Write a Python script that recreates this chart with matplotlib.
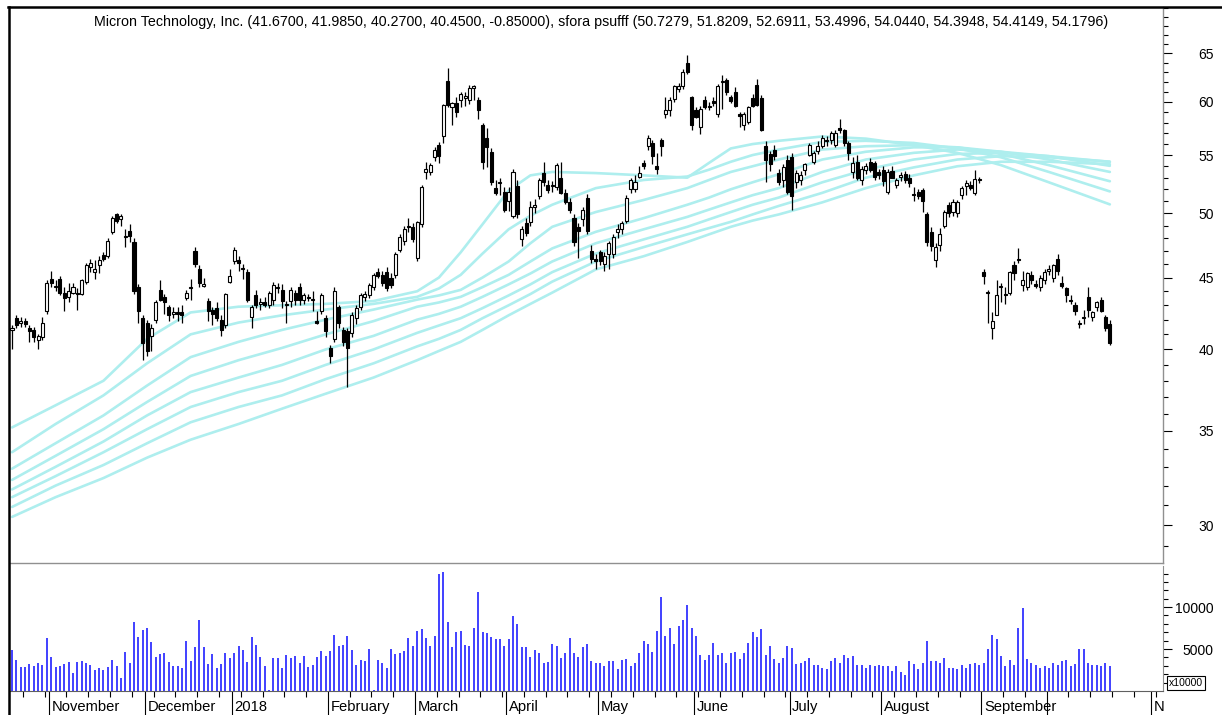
import matplotlib
matplotlib.use("Agg")
import matplotlib.pyplot as plt
import matplotlib.transforms as mtransforms
from matplotlib.lines import Line2D
from matplotlib.ticker import FixedLocator, NullFormatter, FixedFormatter
import numpy as np

plt.rcParams['font.family'] = ['Liberation Sans', 'DejaVu Sans']

title = ("Micron Technology, Inc. (41.6700, 41.9850, 40.2700, 40.4500, -0.85000), "
         "sfora psufff (50.7279, 51.8209, 52.6911, 53.4996, 54.0440, 54.3948, 54.4149, 54.1796)")

opens = [
    41.3, 42.1, 41.8, 41.9, 41.4, 41.3, 40.6, 40.8, 42.6, 44.9,
    44.3, 44.9, 43.9, 43.6, 43.9, 43.9, 43.8, 44.7, 45.8, 45.4,
    45.9, 46.7, 46.6, 48.5, 49.9, 49.5, 48.1, 48.6, 47.7, 44.3,
    42.1, 41.8, 40.9, 42.0, 44.1, 43.6, 42.9, 42.4, 42.5, 42.5,
    43.5, 44.2, 47.0, 45.6, 44.4, 43.3, 42.7, 42.8, 42.0, 41.65,
    44.7, 46.2, 46.3, 45.7, 45.4, 42.2, 43.75, 43.1, 43.2, 43.0,
    43.4, 44.3, 44.1, 43.0, 43.3, 43.9, 44.3, 43.4, 43.6, 43.4,
    41.9, 42.6, 42.1, 40.1, 40.7, 42.9, 41.3, 41.2, 41.1, 42.1,
    42.9, 43.6, 43.7, 44.3, 45.4, 45.2, 45.4, 45.0, 45.2, 47.1,
    47.8, 48.9, 48.9, 46.5, 49.1, 53.5, 53.5, 54.8, 55.9, 56.7,
    62.1, 59.5, 59.9, 60.2, 60.4, 60.2, 61.4, 60.2, 57.8, 56.6,
    55.3, 52.1, 52.5, 51.8, 51.0, 49.8, 52.3, 47.9, 49.2, 49.3,
    50.5, 51.4, 53.4, 52.4, 52.3, 52.2, 53.0, 51.7, 50.9, 49.6,
    48.9, 49.5, 51.3, 47.0, 46.4, 46.9, 46.0, 46.8, 46.8, 48.5,
    48.7, 49.4, 52.0, 52.0, 53.1, 54.3, 55.8, 56.1, 54.0, 56.4,
    58.8, 59.2, 60.3, 61.3, 61.6, 64.0, 60.5, 59.2, 57.6, 60.2,
    59.6, 60.1, 58.8, 62.0, 62.2, 60.5, 61.0, 58.8, 57.8, 58.1,
    60.4, 61.7, 60.4, 55.8, 55.1, 55.5, 53.4, 52.8, 54.6, 54.8,
    52.6, 52.8, 53.7, 55.05, 54.4, 55.4, 55.8, 56.3, 56.4, 55.95,
    57.5, 57.3, 56.1, 53.5, 54.4, 52.8, 53.7, 54.4, 54.3, 53.5,
    53.7, 51.8, 53.6, 52.4, 53.1, 53.3, 53.0, 51.6, 51.8, 51.9,
    49.9, 48.5, 46.3, 47.5, 49.0, 50.7, 50.1, 50.0, 51.5, 52.3,
    52.4, 51.7, 52.9, 45.4, 43.95, 41.4, 42.35, 44.3, 43.8, 43.9,
    45.9, 46.4, 44.45, 44.3, 45.2, 44.5, 44.3, 44.8, 45.5, 45.0,
    46.4, 44.6, 44.2, 43.4, 43.0, 41.8, 42.1, 43.6, 42.2, 42.9,
    43.4, 42.2, 41.67]
highs = [
    41.6, 42.3, 42.2, 42.1, 41.6, 41.5, 41.0, 42.2, 44.8, 45.5,
    44.8, 45.1, 44.3, 44.6, 44.6, 44.2, 44.9, 46.1, 46.4, 46.3,
    46.6, 46.9, 48.0, 49.8, 50.0, 49.9, 48.7, 49.1, 48.0, 44.5,
    42.3, 42.0, 41.7, 43.4, 44.8, 43.8, 43.0, 42.9, 42.9, 43.0,
    44.1, 44.9, 47.3, 45.9, 45.0, 43.5, 42.9, 43.2, 42.3, 43.9,
    45.6, 47.3, 46.6, 46.0, 45.6, 43.0, 44.1, 43.5, 43.6, 44.0,
    44.7, 44.6, 44.5, 43.3, 44.3, 44.1, 44.6, 43.9, 43.8, 44.0,
    42.6, 43.9, 42.3, 40.3, 44.3, 43.0, 41.5, 41.4, 42.5, 43.0,
    43.9, 44.0, 44.6, 45.3, 45.7, 45.5, 45.8, 45.3, 46.9, 48.3,
    49.0, 49.6, 49.2, 49.4, 52.4, 54.4, 54.3, 55.7, 56.2, 59.8,
    63.4, 60.0, 60.5, 61.0, 61.0, 61.7, 61.7, 60.5, 58.0, 57.5,
    55.6, 52.8, 53.0, 52.2, 52.2, 53.8, 52.8, 49.0, 49.6, 51.0,
    51.2, 53.0, 54.4, 52.8, 52.7, 54.3, 54.4, 52.0, 51.3, 49.9,
    49.2, 50.5, 51.6, 47.5, 46.8, 47.1, 46.9, 47.8, 48.3, 49.1,
    49.4, 51.5, 53.0, 53.2, 54.0, 54.6, 56.8, 56.4, 55.2, 56.6,
    60.5, 60.5, 61.7, 61.9, 63.3, 64.8, 60.6, 59.5, 59.6, 60.6,
    60.0, 60.5, 61.8, 62.7, 62.4, 60.7, 61.5, 59.0, 59.0, 59.6,
    60.8, 62.3, 60.7, 56.3, 55.4, 55.9, 53.8, 54.2, 55.0, 55.2,
    53.7, 53.6, 54.3, 56.1, 55.4, 56.3, 56.8, 56.7, 57.2, 57.3,
    58.3, 57.4, 56.3, 54.8, 55.0, 54.0, 54.3, 54.7, 54.5, 53.8,
    54.0, 53.8, 54.0, 53.0, 53.5, 53.6, 53.3, 52.2, 52.0, 52.1,
    50.1, 48.9, 47.6, 48.8, 50.3, 50.9, 51.2, 51.1, 52.3, 52.8,
    52.7, 53.7, 53.1, 45.6, 44.1, 42.5, 44.8, 44.6, 44.3, 45.5,
    46.2, 47.2, 45.5, 45.4, 45.5, 44.8, 45.2, 45.6, 45.9, 46.0,
    46.8, 45.1, 44.3, 43.7, 43.2, 42.0, 42.7, 44.3, 42.6, 43.3,
    43.6, 42.3, 41.985]
lows = [
    40.0, 41.4, 41.5, 41.5, 40.5, 40.5, 40.0, 40.6, 42.4, 44.3,
    44.0, 43.7, 42.6, 43.2, 43.8, 42.7, 43.7, 44.5, 45.4, 44.9,
    45.3, 46.2, 46.5, 48.3, 49.2, 49.0, 47.3, 47.7, 43.8, 41.8,
    39.3, 39.6, 39.9, 41.8, 43.3, 42.4, 41.9, 42.1, 41.9, 41.8,
    43.4, 43.4, 45.8, 44.3, 44.3, 41.9, 41.6, 41.9, 40.9, 41.4,
    44.6, 46.0, 45.5, 44.9, 43.2, 41.4, 42.8, 42.7, 42.9, 42.8,
    43.0, 43.9, 42.8, 41.8, 42.9, 43.0, 43.0, 43.1, 43.3, 42.6,
    41.7, 42.4, 40.8, 39.1, 40.5, 41.4, 40.2, 37.6, 40.8, 41.7,
    42.7, 43.3, 43.5, 44.1, 45.0, 44.4, 44.0, 44.2, 45.0, 46.9,
    47.5, 48.5, 47.7, 46.2, 48.9, 52.9, 53.2, 54.5, 54.3, 56.1,
    59.5, 57.8, 58.5, 59.5, 59.6, 59.8, 60.2, 58.3, 53.8, 53.9,
    52.4, 51.5, 51.5, 50.1, 50.2, 49.6, 49.6, 47.4, 48.2, 49.0,
    50.0, 51.2, 52.3, 51.7, 51.8, 51.9, 51.6, 50.8, 50.0, 47.4,
    46.5, 49.0, 48.3, 46.1, 45.6, 45.9, 45.5, 45.6, 46.5, 48.0,
    48.3, 49.2, 51.7, 51.8, 53.0, 53.8, 55.5, 54.2, 53.3, 54.9,
    58.4, 58.6, 60.0, 61.0, 61.3, 62.8, 57.3, 58.4, 56.9, 59.3,
    59.2, 59.6, 58.5, 59.3, 60.7, 59.9, 59.5, 57.6, 57.3, 57.9,
    59.5, 59.6, 57.2, 52.6, 53.6, 54.6, 52.4, 52.2, 51.6, 50.3,
    52.1, 52.4, 53.2, 54.9, 54.2, 55.1, 55.6, 55.8, 56.0, 55.7,
    57.0, 55.8, 54.6, 53.0, 52.8, 52.4, 53.3, 53.5, 52.8, 52.9,
    52.3, 51.6, 53.0, 52.1, 52.7, 52.5, 52.2, 51.0, 51.2, 50.1,
    47.4, 47.0, 45.8, 47.0, 48.8, 49.7, 49.8, 49.7, 51.2, 51.5,
    51.9, 51.5, 52.5, 44.5, 41.8, 40.7, 42.3, 43.2, 43.1, 43.7,
    44.8, 46.1, 44.0, 44.1, 44.5, 44.2, 44.0, 44.5, 45.2, 44.7,
    45.2, 44.2, 43.2, 43.1, 42.3, 41.4, 41.7, 42.2, 41.9, 42.6,
    42.5, 41.2, 40.27]
closes = [
    41.4, 41.6, 41.9, 41.7, 41.2, 40.8, 40.9, 41.8, 44.6, 44.6,
    44.4, 43.9, 43.5, 44.0, 44.3, 43.8, 44.8, 45.9, 46.1, 45.6,
    46.3, 46.4, 47.8, 49.6, 49.4, 49.8, 48.2, 48.2, 44.0, 42.6,
    40.4, 39.9, 41.4, 43.2, 43.4, 43.2, 42.3, 42.5, 42.4, 42.3,
    43.9, 44.3, 46.0, 44.6, 44.5, 42.6, 42.4, 42.1, 41.3, 43.8,
    45.15, 47.1, 46.1, 45.6, 43.4, 42.9, 43.05, 43.2, 43.0, 43.9,
    44.45, 44.2, 43.3, 43.1, 44.1, 43.4, 43.4, 43.75, 43.5, 43.4,
    41.8, 43.75, 41.2, 39.6, 44.0, 41.8, 40.5, 40.1, 42.3, 42.8,
    43.75, 43.8, 44.45, 45.2, 45.1, 44.6, 44.2, 44.45, 46.8, 48.1,
    48.7, 49.0, 47.9, 49.3, 52.2, 53.75, 54.1, 55.5, 54.9, 59.7,
    59.7, 59.9, 59.0, 60.8, 60.6, 61.4, 61.6, 59.2, 54.4, 55.7,
    52.6, 51.7, 52.6, 50.3, 51.8, 53.5, 49.9, 48.7, 48.4, 50.5,
    50.7, 52.8, 52.6, 51.9, 52.4, 54.15, 51.7, 50.9, 50.3, 47.7,
    48.6, 50.3, 48.6, 46.4, 46.2, 46.2, 46.6, 47.6, 48.1, 48.7,
    49.2, 51.3, 52.8, 52.6, 53.4, 54.0, 56.6, 54.9, 53.8, 55.8,
    59.2, 60.2, 61.6, 61.6, 63.0, 63.0, 57.8, 58.5, 59.3, 59.5,
    59.5, 59.9, 61.6, 62.1, 61.0, 60.1, 59.6, 58.6, 58.8, 59.5,
    59.6, 59.7, 57.3, 54.6, 54.2, 54.9, 52.6, 53.9, 51.8, 51.4,
    53.4, 53.25, 54.2, 55.95, 55.2, 55.85, 56.6, 56.4, 57.0, 57.0,
    57.3, 56.1, 55.2, 54.3, 53.0, 53.8, 54.0, 53.7, 53.1, 53.2,
    52.7, 53.5, 53.0, 52.8, 53.25, 52.8, 52.5, 51.5, 51.4, 51.0,
    47.7, 47.4, 47.3, 48.3, 50.1, 50.0, 50.9, 50.9, 52.1, 52.5,
    52.1, 52.9, 52.8, 45.1, 43.9, 41.9, 43.75, 44.4, 43.7, 45.4,
    45.3, 46.3, 44.8, 45.3, 44.8, 44.4, 45.0, 45.4, 45.6, 45.9,
    45.5, 44.4, 43.75, 43.3, 42.6, 41.7, 42.2, 42.7, 42.5, 43.2,
    42.6, 41.4, 40.45]

volume = [
    4920, 3710, 2820, 2820, 3260, 2980, 3300, 3100, 6330, 4030,
    2820, 2980, 3180, 3430, 2180, 3430, 3630, 3300, 3100, 2500,
    2700, 2500, 2820, 3750, 2980, 1570, 4590, 3300, 8220, 6450,
    7330, 7540, 5800, 4030, 4390, 4550, 3430, 2980, 2980, 2700,
    6000, 3630, 5200, 8500, 5200, 3180, 4390, 2700, 3180, 4550,
    3910, 4550, 5360, 4920, 3430, 6450, 5520, 4030, 2980, 160,
    3910, 3910, 2700, 4270, 3910, 4230, 3300, 4230, 2820, 3140,
    4030, 4720, 4230, 4720, 6730, 5360, 5440, 6610, 4920, 3100,
    3750, 3590, 5040, 160, 3750, 3300, 2700, 5040, 4390, 4510,
    4720, 6330, 5360, 7210, 7420, 6330, 5360, 6610, 13900, 14190,
    8220, 5200, 7050, 7210, 5440, 5360, 7540, 11850, 7050, 6930,
    6450, 6250, 6200, 5360, 6170, 8950, 8020, 5200, 5200, 4030,
    4880, 4550, 3300, 3430, 5640, 5360, 3910, 4550, 6330, 4550,
    4030, 5200, 5640, 3590, 3300, 3300, 2980, 3590,
    3540, 2640, 3700, 3860, 2930, 3370, 4510, 5980, 5570, 4670,
    7200, 11260, 6590, 7480, 5570, 7720, 8500, 10240, 7520, 6590,
    4350, 3700, 4350, 5770, 4350, 4510, 3370, 4510, 4670, 3860,
    4510, 5770, 7030, 6420, 7400, 4350, 5410, 3860, 3370, 3980,
    5330, 5160, 3250, 3370, 3540, 3980, 3050, 3050, 2760, 2640,
    3540, 3980, 3370, 4350, 3980, 4190, 3050, 3050, 2760, 3050,
    2930, 3050, 2930, 2930, 2440, 2930, 2240, 1910, 3540, 3250,
    2640, 3370, 5980, 3540, 3540, 3370, 3980, 2760, 2760, 2640,
    3050, 2760, 3250, 3370, 3050, 3370, 5000, 6710, 6140, 4190,
    2930, 3700, 3050, 7520, 9840, 3860, 3370, 3050, 2760, 2930,
    2760, 3370, 3050, 3540, 3700, 2930, 3250, 5000, 5000, 3370,
    3050, 3050, 2930, 3370, 2930]

# moving-average bands (sfora psufff), read at sample bars
ma_idx = [0, 10, 21, 31, 41, 52, 62, 72, 83, 93, 98, 103, 108, 114, 119, 124, 134,
          145, 155, 160, 165, 170, 176, 186, 196, 207, 217, 227, 238, 252]
ma1 = [35.2, 36.5, 38.0, 40.7, 42.5, 42.9, 43.0, 43.1, 43.3, 44.0, 45.0, 46.9, 49.1, 51.9, 53.2, 53.5, 53.4,
       53.2, 53.0, 54.3, 55.6, 56.0, 56.3, 56.7, 56.5, 55.9, 55.2, 54.1, 52.6, 50.73]
ma2 = [33.8, 35.4, 37.1, 39.1, 41.0, 41.8, 42.3, 42.7, 43.1, 43.6, 44.2, 45.2, 46.8, 48.7, 49.8, 50.7, 52.1,
       52.8, 53.1, 53.7, 54.4, 55.0, 55.5, 56.2, 56.3, 56.1, 55.6, 54.8, 53.5, 51.82]
ma3 = [32.9, 34.3, 35.9, 37.7, 39.5, 40.5, 41.3, 42.0, 42.7, 43.4, 43.7, 44.1, 45.0, 46.2, 47.6, 48.9, 50.1,
       51.1, 52.1, 52.8, 53.5, 54.0, 54.6, 55.5, 55.8, 55.9, 55.7, 55.1, 54.1, 52.69]
ma4 = [32.3, 33.6, 35.1, 36.7, 38.3, 39.3, 40.1, 41.0, 41.9, 42.9, 43.2, 43.6, 44.3, 45.2, 46.2, 47.2, 48.5,
       49.6, 50.7, 51.3, 52.0, 52.6, 53.3, 54.6, 55.3, 55.7, 55.7, 55.3, 54.6, 53.50]
ma5 = [31.8, 33.0, 34.4, 35.9, 37.3, 38.2, 39.0, 40.0, 40.9, 42.0, 42.4, 42.9, 43.6, 44.5, 45.3, 46.2, 47.6,
       48.7, 49.7, 50.3, 50.9, 51.5, 52.1, 53.5, 54.6, 55.2, 55.5, 55.3, 54.9, 54.04]
ma6 = [31.4, 32.5, 33.8, 35.1, 36.4, 37.3, 38.0, 39.0, 40.0, 41.1, 41.6, 42.1, 42.8, 43.7, 44.5, 45.4, 46.8,
       47.9, 48.9, 49.5, 50.1, 50.7, 51.3, 52.6, 53.7, 54.6, 55.1, 55.2, 54.9, 54.39]
ma7 = [30.9, 32.0, 33.1, 34.3, 35.5, 36.4, 37.1, 38.1, 39.1, 40.2, 40.7, 41.3, 42.1, 43.0, 43.8, 44.7, 46.2,
       47.3, 48.3, 48.8, 49.3, 49.9, 50.6, 51.7, 53.0, 53.9, 54.6, 54.9, 54.8, 54.41]
ma8 = [30.4, 31.4, 32.4, 33.5, 34.5, 35.4, 36.3, 37.2, 38.2, 39.3, 39.9, 40.5, 41.3, 42.3, 43.1, 43.9, 45.6,
       46.6, 47.7, 48.3, 48.9, 49.4, 49.9, 50.9, 52.1, 53.2, 54.0, 54.4, 54.4, 54.18]

month_labels = ["November", "December", "2018", "February", "March", "April", "May",
                "June", "July", "August", "September", "", "N"]
month_pos = [8.5, 30.5, 50.5, 72.5, 92.5, 113.5, 134.5, 156.5, 178.5, 199.5, 222.5, 237.5, 261.5]

price_ticks = [30, 35, 40, 45, 50, 55, 60, 65]
vol_ticks = [5000, 10000]

# ---------------------------------------------------------------
W, H = 1222, 715
fig = plt.figure(figsize=(W / 100, H / 100), dpi=100)
fig.patch.set_facecolor('white')

def fx(px):
    return px / W

def fy(py):
    return 1 - py / H

xl, xr = 10, 1163
ax1 = fig.add_axes([fx(xl), fy(563), fx(xr - xl), (563 - 7) / H])
ax2 = fig.add_axes([fx(xl), fy(691), fx(xr - xl), (691 - 566) / H])

n = len(closes)
x = np.arange(n)
xlim = (-0.46, 264.2)

# MA lines
ma_color = '#aeeeee'
for ma in [ma1, ma2, ma3, ma4, ma5, ma6, ma7, ma8]:
    ax1.plot(ma_idx, ma, color=ma_color, lw=1.9, zorder=1,
             solid_capstyle='round', solid_joinstyle='round')

o = np.array(opens); h = np.array(highs); l = np.array(lows); c = np.array(closes)
ax1.vlines(x, l, h, color='black', lw=0.9, zorder=2)
up = c >= o
bot = np.minimum(o, c)
top = np.maximum(o, c)
hgt = np.maximum(top - bot, 0.04)
ax1.bar(x[up], hgt[up], bottom=bot[up], width=0.7, facecolor='white',
        edgecolor='black', linewidth=0.8, zorder=3)
ax1.bar(x[~up], hgt[~up], bottom=bot[~up], width=0.7, facecolor='black',
        edgecolor='black', linewidth=0.8, zorder=3)

ax1.set_yscale('log')
ax1.set_ylim(28.19, 70.1)
ax1.set_xlim(*xlim)
ax1.yaxis.tick_right()
ax1.yaxis.set_major_locator(FixedLocator(price_ticks))
ax1.yaxis.set_major_formatter(FixedFormatter([str(t) for t in price_ticks]))
ax1.yaxis.set_minor_locator(FixedLocator([v for v in range(29, 71) if v not in price_ticks]))
ax1.yaxis.set_minor_formatter(NullFormatter())
ax1.tick_params(axis='y', which='major', direction='out', length=6.5, width=0.8,
                color='black', labelsize=10, pad=30)
ax1.tick_params(axis='y', which='minor', direction='out', length=3.5, width=0.8, color='black')
for lab in ax1.get_yticklabels():
    lab.set_horizontalalignment('right')
ax1.set_xticks([])
for s in ['left', 'top']:
    ax1.spines[s].set_visible(False)
for s in ['right', 'bottom']:
    ax1.spines[s].set_color('#909090')
    ax1.spines[s].set_linewidth(1.0)

# volume
ax2.vlines(x, 0, volume, color='#2020ff', lw=1.2)
ax2.set_xlim(*xlim)
ax2.set_ylim(0, 14900)
ax2.yaxis.tick_right()
ax2.yaxis.set_major_locator(FixedLocator(vol_ticks))
ax2.yaxis.set_major_formatter(FixedFormatter([str(t) for t in vol_ticks]))
ax2.yaxis.set_minor_locator(FixedLocator([1000 * k for k in range(1, 15) if k not in (5, 10)]))
ax2.yaxis.set_minor_formatter(NullFormatter())
ax2.tick_params(axis='y', which='major', direction='out', length=6.5, width=0.8,
                labelsize=10, pad=30)
ax2.tick_params(axis='y', which='minor', direction='out', length=3.5, width=0.8)
for lab in ax2.get_yticklabels():
    lab.set_horizontalalignment('right')
ax2.xaxis.set_major_locator(FixedLocator(month_pos))
ax2.xaxis.set_major_formatter(NullFormatter())
ax2.xaxis.set_minor_locator(FixedLocator([2.5 + 5 * k for k in range(53)]))
ax2.tick_params(axis='x', which='major', direction='out', length=17.5, width=0.8)
ax2.tick_params(axis='x', which='minor', direction='out', length=4.5, width=0.8)
for s in ['left', 'top']:
    ax2.spines[s].set_visible(False)
ax2.spines['right'].set_color('#909090')
ax2.spines['bottom'].set_color('#606060')

tr = mtransforms.blended_transform_factory(ax2.transData, fig.transFigure)
for lab, p in zip(month_labels, month_pos):
    if lab:
        ax2.text(p + 0.6, fy(707), lab, transform=tr, ha='left', va='center', fontsize=10.6)

fig.text(fx(1186), fy(683), 'x10000', ha='center', va='center', fontsize=7.5,
         bbox=dict(boxstyle='square,pad=0.15', fc='white', ec='black', lw=0.8))

fig.text(fx(601), fy(22), title, ha='center', va='center', fontsize=10.3)

# outer frame
fig.add_artist(Line2D([fx(8), 1.0], [fy(7), fy(7)], transform=fig.transFigure, color='black', lw=1.8))
fig.add_artist(Line2D([fx(9), fx(9)], [0, fy(7)], transform=fig.transFigure, color='black', lw=1.8))

fig.savefig('out.png', dpi=100)
